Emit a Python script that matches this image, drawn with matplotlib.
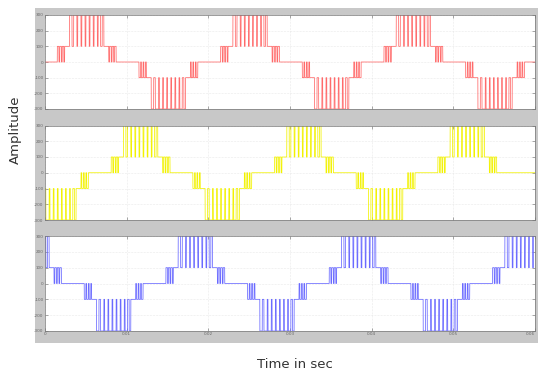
import numpy as np
import matplotlib
matplotlib.use("Agg")
import matplotlib.pyplot as plt

# ---- data ----
phase_colors = ["#ff6a6a", "#f2f200", "#6a6aff"]
# centres (s) of positive and negative half-cycle bands for each phase
pos_peaks = [[0.0051, 0.0251, 0.0451],
             [0.0117, 0.0317, 0.0517],
             [-0.0016, 0.0184, 0.0384, 0.0584]]
neg_peaks = [[0.0151, 0.0351, 0.0551],
             [0.0017, 0.0217, 0.0417],
             [0.0084, 0.0284, 0.0484]]
# levels of the multilevel output
low_level = 100
high_level = 300
# half-width of the whole non-zero band and of the high-level band
outer_half = 0.0036
inner_half = 0.0021
# pulses at the high level inside the inner band (relative to band centre)
inner_on_start = [-0.0021, -0.0016, -0.0011, -0.0006, -0.0001, 0.0004, 0.0009, 0.0014, 0.0019]
inner_on_end = [-0.0018, -0.0012, -0.0007, -0.0002, 0.0003, 0.0008, 0.0013, 0.0017, 0.0021]
# short drops to zero inside the outer bands (relative to band centre)
gap_start = [-0.0034, -0.0031, -0.0028, 0.0027, 0.0030, 0.0033]
gap_end = [-0.0033, -0.0030, -0.0027, 0.0028, 0.0031, 0.0034]

yticks = [-300, -200, -100, 0, 100, 200, 300]
xticks = [0, 0.01, 0.02, 0.03, 0.04, 0.05, 0.06]
xticklabels = ["0", "0.01", "0.02", "0.03", "0.04", "0.05", "0.06"]

W, H = 538, 373
fig = plt.figure(figsize=(W / 100, H / 100), dpi=100)
fig.patch.set_facecolor("white")
bg = fig.add_axes([35 / W, (H - 343) / H, (W - 35) / W, 335 / H], zorder=-5)
bg.set_facecolor("#c8c8c8")
bg.set_xticks([]); bg.set_yticks([])
for sp in bg.spines.values():
    sp.set_visible(False)

t = np.linspace(0, 0.06, 60001)

def waveform(pos, neg):
    v = np.zeros_like(t)
    for centres, s in ((pos, 1), (neg, -1)):
        for c in centres:
            d = t - c
            v[np.abs(d) < outer_half] = s * low_level
            for a, b in zip(gap_start, gap_end):
                v[(d >= a) & (d < b)] = 0
            for a, b in zip(inner_on_start, inner_on_end):
                v[(d >= a) & (d < b)] = s * high_level
    return v

panels = [(15, 109), (125.5, 220), (236, 331)]
for i, (top, bot) in enumerate(panels):
    ax = fig.add_axes([45 / W, (H - bot) / H, 490 / W, (bot - top) / H])
    ax.set_facecolor("white")
    v = waveform(pos_peaks[i], neg_peaks[i])
    ax.plot(t, v, color=phase_colors[i], lw=0.55)
    ax.set_xlim(0, 0.06)
    ax.set_ylim(-300, 300)
    ax.set_yticks(yticks)
    ax.set_yticklabels([str(y) for y in yticks], fontsize=3, color="#555555")
    ax.set_xticks(xticks)
    if i == 2:
        labs = ax.set_xticklabels(xticklabels, fontsize=3, color="#555555")
        labs[-1].set_horizontalalignment("right")
    else:
        ax.set_xticklabels([])
    ax.tick_params(direction="in", length=2, width=0.4, pad=1,
                   top=True, right=True, colors="#666666")
    ax.grid(True, color="#d8d8d8", lw=0.4, ls=":")
    for sp in ax.spines.values():
        sp.set_linewidth(0.5)
        sp.set_color("#777777")

fig.text(15 / W, (H - 130) / H, "Amplitude", rotation=90, ha="center", va="center",
         fontsize=9.5, color="#333333")
fig.text(295 / W, (H - 364) / H, "Time in sec", ha="center", va="center",
         fontsize=9.5, color="#333333")

fig.savefig("out.png", dpi=100)
